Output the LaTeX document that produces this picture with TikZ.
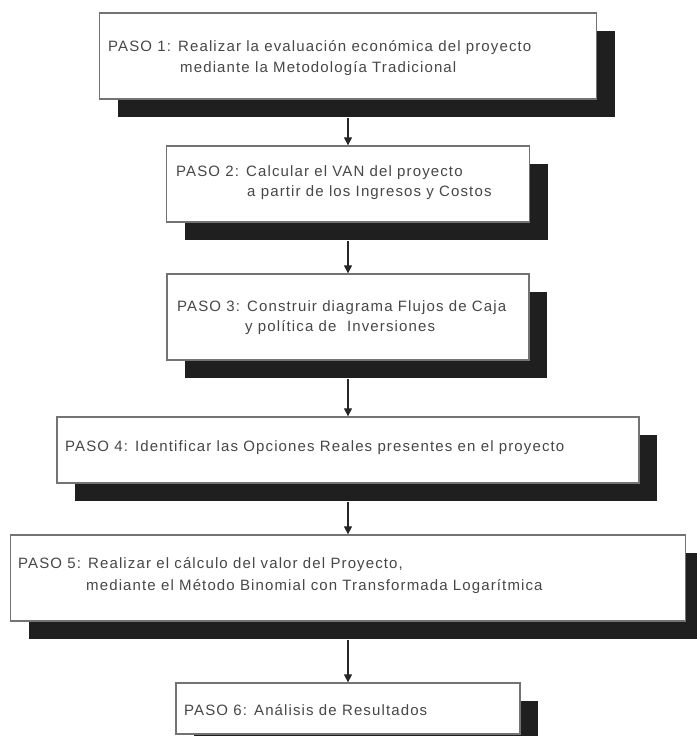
\documentclass[tikz,border=0pt]{standalone}
\usepackage{fontspec}
\setmainfont{Liberation Sans}
\newfontfamily\pasofont{Liberation Sans}[LetterSpace=7.5]
\usetikzlibrary{arrows.meta,shadows}

\begin{document}
\begin{tikzpicture}[x=1pt, y=-1pt,
    paso/.style={draw=black!55, line width=1.3pt, fill=white, inner sep=0pt,
        drop shadow={shadow xshift=18pt, shadow yshift=-18pt, fill=black!88, opacity=1}},
    txt/.style={anchor=west, inner sep=0pt, text=black!72, font=\pasofont\fontsize{15}{18}\selectfont},
    flecha/.style={line width=1.2pt, black!85, -{Triangle[width=8pt,length=8pt]}}]
    \useasboundingbox (0,0) rectangle (696,736);

    % boxes with their shadows
    \node[paso, minimum width=497pt, minimum height=86pt] (p1) at (348,56) {};
    \node[paso, minimum width=363pt, minimum height=76pt] (p2) at (348,184) {};
    \node[paso, minimum width=362pt, minimum height=86pt] (p3) at (348,317) {};
    \node[paso, minimum width=582pt, minimum height=66pt] (p4) at (348,450) {};
    \node[paso, minimum width=675pt, minimum height=86pt] (p5) at (348,578) {};
    \node[paso, minimum width=344pt, minimum height=51pt] (p6) at (348,708.5) {};

    % texts
    \node[txt] (t1a) at (108,48) {PASO 1: Realizar la evaluación económica del proyecto};
    \node[txt] (t1b) at (180,69) {mediante la Metodología Tradicional};
    \node[txt] (t2a) at (176,173) {PASO 2: Calcular el VAN del proyecto};
    \node[txt] (t2b) at (247,193) {a partir de los Ingresos y Costos};
    \node[txt] (t3a) at (177,308) {PASO 3: Construir diagrama Flujos de Caja};
    \node[txt] (t3b) at (245,328) {y política de\ \ Inversiones};
    \node[txt] (t4) at (65,448) {PASO 4: Identificar las Opciones Reales presentes en el proyecto};
    \node[txt] (t5a) at (18,565) {PASO 5: Realizar el cálculo del valor del Proyecto,};
    \node[txt] (t5b) at (86,587) {mediante el Método Binomial con Transformada Logarítmica};
    \node[txt] (t6) at (184,710) {PASO 6: Análisis de Resultados};

    % arrows from shadow to next box
    \foreach \a/\b in {p1/p2,p2/p3,p3/p4,p4/p5,p5/p6}
        \draw[flecha] ([yshift=-18pt]\a.south) -- (\b.north);
\end{tikzpicture}
\end{document}
